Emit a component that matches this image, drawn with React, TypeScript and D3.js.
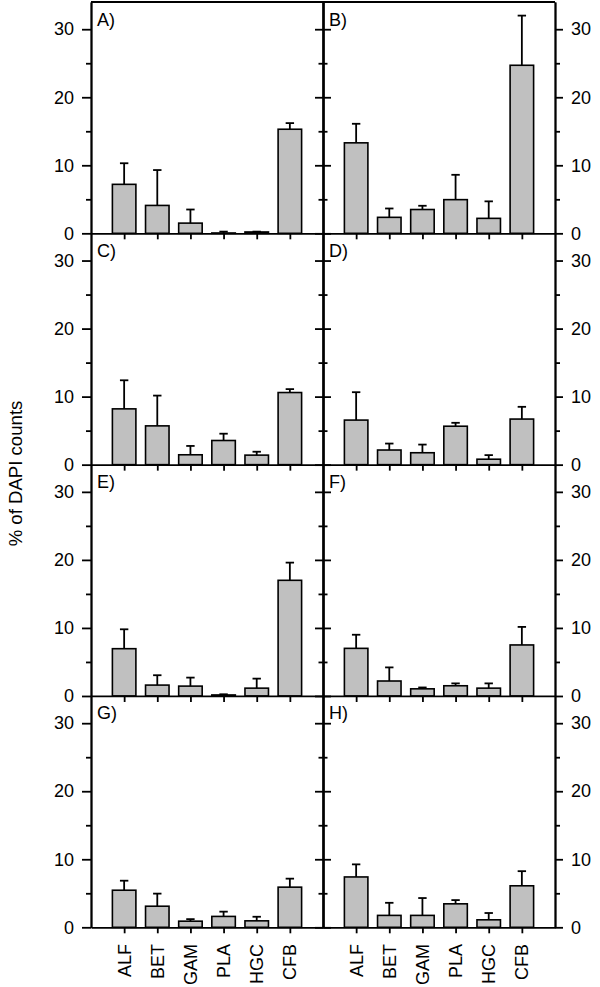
import React, { useEffect, useRef } from "react"
import * as d3 from "d3"

const categories = ["ALF", "BET", "GAM", "PLA", "HGC", "CFB"]
const panelLabels = ["A)", "B)", "C)", "D)", "E)", "F)", "G)", "H)"]
const yTicksMajor = [0, 10, 20, 30]
const yTicksMinor = [5, 15, 25]

// mean % of DAPI counts and the error (SD) per panel
const meansA = [7.2, 4.1, 1.5, 0.05, 0.2, 15.3]
const errA = [3.1, 5.2, 2.0, 0.2, 0.05, 0.9]
const meansB = [13.3, 2.35, 3.5, 4.95, 2.2, 24.7]
const errB = [2.8, 1.3, 0.55, 3.65, 2.5, 7.3]
const meansC = [8.2, 5.7, 1.45, 3.55, 1.4, 10.6]
const errC = [4.2, 4.45, 1.3, 1.0, 0.5, 0.5]
const meansD = [6.55, 2.15, 1.75, 5.65, 0.8, 6.7]
const errD = [4.1, 0.95, 1.2, 0.5, 0.6, 1.8]
const meansE = [6.95, 1.6, 1.45, 0.15, 1.15, 17.0]
const errE = [2.85, 1.45, 1.25, 0.1, 1.4, 2.6]
const meansF = [7.0, 2.2, 1.05, 1.5, 1.15, 7.5]
const errF = [2.0, 2.0, 0.2, 0.35, 0.7, 2.65]
const meansG = [5.45, 3.1, 0.9, 1.6, 0.95, 5.9]
const errG = [1.4, 1.85, 0.3, 0.7, 0.6, 1.25]
const meansH = [7.4, 1.75, 1.75, 3.45, 1.1, 6.1]
const errH = [1.85, 1.85, 2.55, 0.55, 1.0, 2.15]

const panelMeans = [meansA, meansB, meansC, meansD, meansE, meansF, meansG, meansH]
const panelErrs = [errA, errB, errC, errD, errE, errF, errG, errH]

const FONT = "'Liberation Sans', Arial, Helvetica, sans-serif"

export default function App() {
  const svgRef = useRef<SVGSVGElement>(null)

  useEffect(() => {
    if (!svgRef.current) return
    const svg = d3.select(svgRef.current)
    svg.selectAll("*").remove()

    const left = 91
    const mid = 323
    const right = 555
    const top = 2
    const bottom = 927.3
    const rowH = (bottom - top) / 4
    const barW = 23.5
    const capW = 8.4
    const lw = 1.8

    svg.append("rect").attr("width", 600).attr("height", 987).attr("fill", "#fff")

    const styleAxis = (g: d3.Selection<SVGGElement, unknown, null, undefined>) => {
      g.selectAll("path, line").attr("stroke", "#000").attr("stroke-width", lw)
      g.selectAll("text")
        .attr("fill", "#000")
        .style("font-family", FONT)
        .style("font-size", "18px")
    }

    for (let r = 0; r < 4; r++) {
      const rowTop = top + r * rowH
      const rowBottom = rowTop + rowH
      const y = d3.scaleLinear().domain([0, 34]).range([rowBottom, rowTop])

      for (let c = 0; c < 2; c++) {
        const idx = r * 2 + c
        const x0 = c === 0 ? left : mid
        const x1 = c === 0 ? mid : right
        const x = d3.scalePoint<string>().domain(categories).range([x0, x1]).padding(1)
        const data = categories.map((cat, i) => ({ cat, m: panelMeans[idx][i], e: panelErrs[idx][i] }))
        const g = svg.append("g")

        g.selectAll("rect.bar")
          .data(data)
          .join("rect")
          .attr("class", "bar")
          .attr("x", d => (x(d.cat) || 0) - barW / 2)
          .attr("y", d => y(d.m))
          .attr("width", barW)
          .attr("height", d => y(0) - y(d.m))
          .attr("fill", "#c0c0c0")
          .attr("stroke", "#000")
          .attr("stroke-width", 1.6)

        g.selectAll("line.err")
          .data(data)
          .join("line")
          .attr("class", "err")
          .attr("x1", d => x(d.cat) || 0)
          .attr("x2", d => x(d.cat) || 0)
          .attr("y1", d => y(d.m))
          .attr("y2", d => y(d.m + d.e))
          .attr("stroke", "#000")
          .attr("stroke-width", lw)

        g.selectAll("line.cap")
          .data(data)
          .join("line")
          .attr("class", "cap")
          .attr("x1", d => (x(d.cat) || 0) - capW / 2)
          .attr("x2", d => (x(d.cat) || 0) + capW / 2)
          .attr("y1", d => y(d.m + d.e))
          .attr("y2", d => y(d.m + d.e))
          .attr("stroke", "#000")
          .attr("stroke-width", lw)

        const xAxis = g.append("g")
          .attr("transform", `translate(0,${rowBottom})`)
          .call(d3.axisBottom(x).tickSize(6).tickSizeOuter(0).tickFormat(() => ""))
        styleAxis(xAxis)

        g.append("text")
          .attr("x", x0 + 6)
          .attr("y", rowTop + 23.5)
          .attr("fill", "#000")
          .style("font-family", FONT)
          .style("font-size", "18px")
          .text(panelLabels[idx])

        if (r === 3) {
          g.selectAll("text.cat")
            .data(categories)
            .join("text")
            .attr("class", "cat")
            .attr("transform", d => `translate(${x(d)},944) rotate(-90)`)
            .attr("text-anchor", "end")
            .attr("dy", "0.36em")
            .attr("fill", "#000")
            .style("font-family", FONT)
            .style("font-size", "18px")
            .text(d => d)
        }
      }

      // left axis
      const la = svg.append("g").attr("transform", `translate(${left},0)`)
        .call(d3.axisLeft(y).tickValues(yTicksMajor).tickSize(9).tickSizeOuter(0).tickPadding(8).tickFormat(d3.format("d")))
      styleAxis(la)
      const lm = svg.append("g").attr("transform", `translate(${left},0)`)
        .call(d3.axisLeft(y).tickValues(yTicksMinor).tickSize(5).tickSizeOuter(0).tickFormat(() => ""))
      styleAxis(lm)

      // middle divider, ticks on both sides
      const mids = [
        d3.axisLeft(y).tickValues(yTicksMajor).tickSize(8),
        d3.axisRight(y).tickValues(yTicksMajor).tickSize(8),
        d3.axisLeft(y).tickValues(yTicksMinor).tickSize(4.5),
        d3.axisRight(y).tickValues(yTicksMinor).tickSize(4.5),
      ]
      mids.forEach(ax => {
        const mg = svg.append("g").attr("transform", `translate(${mid},0)`)
          .call(ax.tickSizeOuter(0).tickFormat(() => ""))
        styleAxis(mg)
      })

      // right axis
      const ra = svg.append("g").attr("transform", `translate(${right},0)`)
        .call(d3.axisRight(y).tickValues(yTicksMajor).tickSize(8).tickSizeOuter(0).tickPadding(8).tickFormat(d3.format("d")))
      styleAxis(ra)
      const rm = svg.append("g").attr("transform", `translate(${right},0)`)
        .call(d3.axisRight(y).tickValues(yTicksMinor).tickSize(5).tickSizeOuter(0).tickFormat(() => ""))
      styleAxis(rm)
    }

    svg.append("line")
      .attr("x1", left).attr("x2", right)
      .attr("y1", top).attr("y2", top)
      .attr("stroke", "#000").attr("stroke-width", lw)

    svg.append("text")
      .attr("transform", `translate(22,473.5) rotate(-90)`)
      .attr("text-anchor", "middle")
      .attr("fill", "#000")
      .style("font-family", FONT)
      .style("font-size", "18.6px")
      .text("% of DAPI counts")
  }, [])

  return (
    <div style={{ position: "absolute", left: 0, top: 0 }}>
      <svg ref={svgRef} width={600} height={987} style={{ display: "block" }} />
    </div>
  )
}
